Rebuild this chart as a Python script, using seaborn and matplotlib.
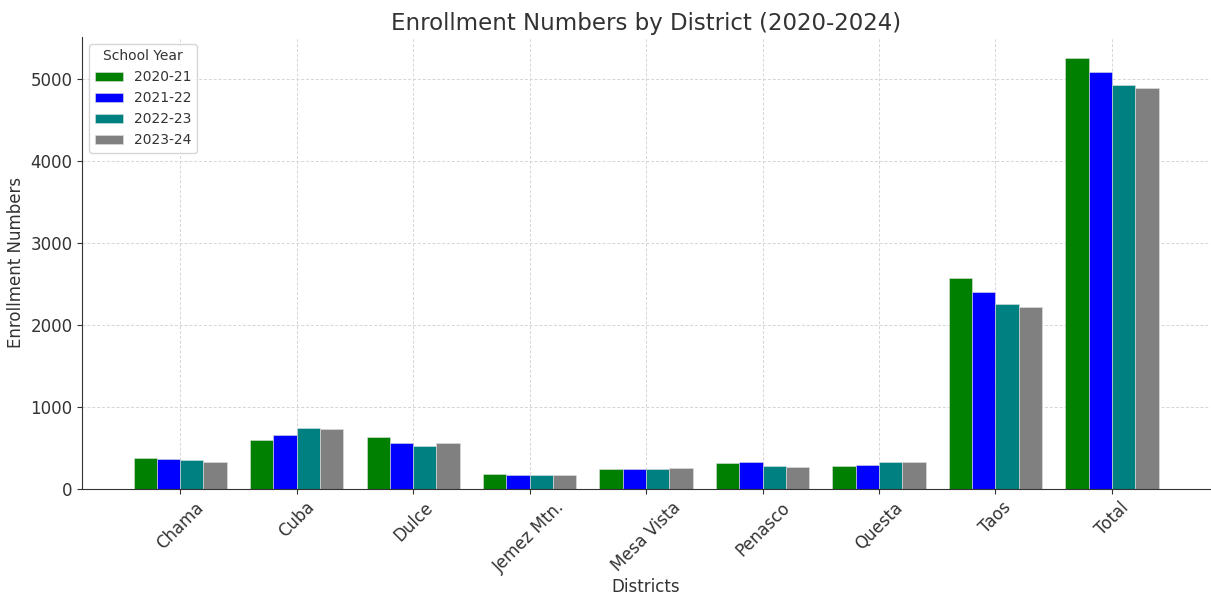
import pandas as pd
import matplotlib
matplotlib.use('Agg')
import matplotlib.pyplot as plt
import seaborn as sns

# 数据
districts = ['Chama', 'Cuba', 'Dulce', 'Jemez Mtn.', 'Mesa Vista', 'Penasco', 'Questa', 'Taos', 'Total']
years = ['2020-21', '2021-22', '2022-23', '2023-24']
y2020_21 = [374, 593, 629, 183, 244, 313, 276, 2567, 5251]
y2021_22 = [366, 661, 564, 170, 235, 325, 292, 2405, 5080]
y2022_23 = [350, 735, 524, 162, 235, 276, 320, 2255, 4930]
y2023_24 = [320, 731, 552, 170, 248, 260, 325, 2222, 4894]
colors = ['green', 'blue', 'teal', 'gray']

# 长表
rows = []
for yr, vals in zip(years, [y2020_21, y2021_22, y2022_23, y2023_24]):
    for d, v in zip(districts, vals):
        rows.append({'District': d, 'School Year': yr, 'Enrollment': v})
df = pd.DataFrame(rows)

sns.set_style('ticks')
plt.rcParams['font.family'] = ['DejaVu Sans']
plt.rcParams['text.color'] = '#333333'
plt.rcParams['axes.labelcolor'] = '#333333'
plt.rcParams['xtick.color'] = '#333333'
plt.rcParams['ytick.color'] = '#333333'
plt.rcParams['axes.edgecolor'] = '#333333'

fig = plt.figure(figsize=(12.11, 5.96), dpi=100)
ax = fig.add_axes([0.068, 0.18, 0.931, 0.758])

sns.barplot(data=df, x='District', y='Enrollment', hue='School Year',
            palette=colors, saturation=1, width=0.8, ax=ax,
            edgecolor='#e0e0e0', linewidth=0.4)

ax.set_xlim(-0.84, 8.84)
ax.grid(True, linestyle=(0, (3, 2)), color='#d5d5d5', linewidth=0.7)
ax.set_axisbelow(True)
sns.despine(ax=ax)

ax.set_title('Enrollment Numbers by District (2020-2024)', fontsize=16.5, pad=5)
ax.set_xlabel('Districts', fontsize=12, labelpad=1)
ax.set_ylabel('Enrollment Numbers', fontsize=12)
ax.tick_params(axis='both', labelsize=12)
plt.setp(ax.get_xticklabels(), rotation=45)

ax.legend(title='School Year', loc='upper left', fontsize=10, title_fontsize=10)

fig.savefig('out.png', dpi=100)
